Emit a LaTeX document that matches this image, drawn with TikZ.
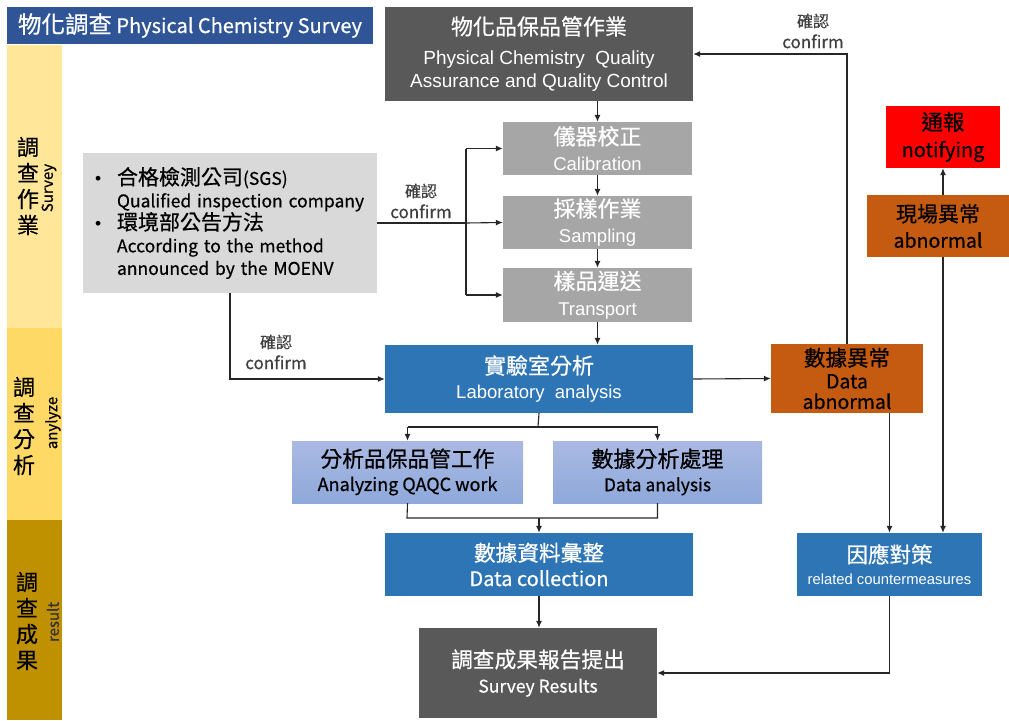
\documentclass[tikz,border=0pt]{standalone}
\usepackage{fontspec}
\setmainfont{Noto Sans CJK TC}[FakeBold=0.6]
\newfontfamily\arialfont{Liberation Sans}
\usetikzlibrary{arrows.meta}
\newcommand{\fs}[2]{\fontsize{#1}{#2}\selectfont}
\newcommand{\dotitem}{\makebox[24pt][l]{\hspace*{2pt}{\arialfont •}}}
\definecolor{titleblue}{HTML}{2F5597}
\definecolor{barone}{HTML}{FFE699}
\definecolor{bartwo}{HTML}{FFD966}
\definecolor{barthree}{HTML}{BF9000}
\definecolor{infogray}{HTML}{D9D9D9}
\definecolor{darkgray}{HTML}{595959}
\definecolor{midgray}{HTML}{A6A6A6}
\definecolor{labblue}{HTML}{2E75B6}
\definecolor{rust}{HTML}{C55A11}
\definecolor{alertred}{HTML}{FF0000}
\definecolor{lavtop}{HTML}{AAB9E2}
\definecolor{lavbot}{HTML}{8EA9DB}

\begin{document}
\begin{tikzpicture}[x=1pt,y=-1pt,
  every node/.style={inner sep=0pt},
  box/.style={align=center},
  line/.style={line width=1.1pt,color=black!85},
  arr/.style={line,-{Latex[length=7pt,width=6pt]}},
  note/.style={align=center,text=black!75,font=\fs{17}{21}},
  side/.style={align=center,font=\fs{22}{26}},
  sidetag/.style={rotate=90,font=\fs{15}{18}}]
\useasboundingbox (0,0) rectangle (1009,720);

% side bar
\fill[barone] (7,45) rectangle (62,328);
\fill[bartwo] (7,328) rectangle (62,520);
\fill[barthree] (7,520) rectangle (62,720);
\node[side] (s1) at (28,186) {調\\查\\作\\業};
\node[sidetag] (t1) at (49,188) {Survey};
\node[side] (s2) at (24,426) {調\\查\\分\\析};
\node[sidetag] (t2) at (53,423) {anylyze};
\node[side] (s3) at (27,621) {調\\查\\成\\果};
\node[sidetag,text=black!80] (t3) at (53,622) {result};

% title
\node[fill=titleblue,text=white,minimum width=366,minimum height=37,font=\fs{20}{24}] (title) at (190,25.5) {{\fs{23.5}{24}物化調查} Physical Chemistry Survey};

% boxes
\node[fill=infogray,minimum width=294,minimum height=140,text width=274,align=left,font=\fs{17.5}{22.5}] (info) at (230,223)
  {\dotitem{\fs{21}{22}合格檢測公司}(SGS)\\\hspace*{24pt}Qualified inspection company\\\dotitem{\fs{21}{22}環境部公告方法}\\\hspace*{24pt}According to the method\\\hspace*{24pt}announced by the MOENV};
\node[box,fill=darkgray,text=white,minimum width=308,minimum height=94,font=\arialfont\fs{19}{23}] (qa) at (539,54)
  {{\rmfamily\fs{22}{23}物化品保品管作業}\\[7pt]Physical Chemistry~ Quality\\Assurance and Quality Control};
\node[box,fill=midgray,text=white,minimum width=189,minimum height=53,font=\arialfont\fs{18.5}{26}] (cal) at (597.5,148.5)
  {{\rmfamily\fs{22}{22}儀器校正}\\Calibration};
\node[box,fill=midgray,text=white,minimum width=189,minimum height=53,font=\arialfont\fs{18.5}{26}] (samp) at (597.5,222.5)
  {{\rmfamily\fs{22}{22}採樣作業}\\Sampling};
\node[box,fill=midgray,text=white,minimum width=189,minimum height=54,font=\arialfont\fs{18.5}{26}] (trans) at (597.5,295)
  {{\rmfamily\fs{22}{22}樣品運送}\\Transport};
\node[box,fill=labblue,text=white,minimum width=308,minimum height=68,font=\arialfont\fs{18.5}{25}] (lab) at (539,379)
  {{\rmfamily\fs{22}{22}實驗室分析}\\Laboratory~ analysis};
\node[box,fill=rust,minimum width=152,minimum height=69,font=\fs{19.5}{20.5}] (dab) at (847,378.5)
  {{\fs{21.5}{22}數據異常}\\[2pt]Data\\abnormal};
\node[box,fill=rust,minimum width=142,minimum height=62,font=\fs{19.5}{26}] (site) at (938,226)
  {{\fs{21}{22}現場異常}\\abnormal};
\node[box,fill=alertred,minimum width=114,minimum height=62,font=\fs{20}{27}] (notify) at (943,137)
  {{\fs{21.5}{22}通報}\\notifying};
\node[box,fill=labblue,text=white,minimum width=185,minimum height=63,font=\arialfont\fs{14.8}{22}] (cm) at (889.5,564.5)
  {{\rmfamily\fs{21.5}{22}因應對策}\\related countermeasures};
\node[box,top color=lavtop,bottom color=lavbot,minimum width=231,minimum height=62,font=\fs{18}{24}] (qaqc) at (407.5,472)
  {{\fs{21.75}{22}分析品保品管工作}\\Analyzing QAQC work};
\node[box,top color=lavtop,bottom color=lavbot,minimum width=209,minimum height=62,font=\fs{17.5}{24}] (dana) at (657.5,472)
  {{\fs{22}{22}數據分析處理}\\Data analysis};
\node[box,fill=labblue,text=white,minimum width=308,minimum height=63,font=\fs{20}{25}] (coll) at (539,564.5)
  {{\fs{21.7}{22}數據資料彙整}\\Data collection};
\node[box,fill=darkgray,text=white,minimum width=238,minimum height=90,font=\fs{17.5}{25}] (res) at (538,673)
  {{\fs{21.7}{22}調查成果報告提出}\\Survey Results};

% confirm notes
\node[note] (c1) at (421,201) {{\fs{16}{21}確認}\\confirm};
\node[note] (c2) at (276,352) {{\fs{16}{21}確認}\\confirm};
\node[note] (c3) at (813,31) {{\fs{16}{21}確認}\\confirm};

% connectors
\draw[line] (info.east) -- (466,223) coordinate (fork);
\draw[line] (fork |- cal) -- (fork |- trans);
\draw[arr] (fork |- cal) -- (cal.west);
\draw[arr] (fork) -- (samp.west);
\draw[arr] (fork |- trans) -- (trans.west);
\draw[arr] (info.south) |- (lab.west);
\draw[arr] (qa.south -| cal) -- (cal.north);
\draw[arr] (cal) -- (samp);
\draw[arr] (samp) -- (trans);
\draw[arr] (trans.south) -- (trans |- lab.north);
\draw[arr] (lab.east) -- (dab.west);
\draw[arr] (dab.north) |- (qa.east);
\draw[arr] (dab.south -| cm) -- (cm.north);
\draw[arr] (notify |- site.north) -- (notify.south);
\draw[arr] (notify |- site.south) -- (notify |- cm.north);
\draw[arr] (cm.south) |- (res.east);
\draw[line] (lab.south) -- (538,427) coordinate (split);
\draw[line] (qaqc |- split) -- (dana |- split);
\draw[arr] (qaqc |- split) -- (qaqc.north);
\draw[arr] (dana |- split) -- (dana.north);
\draw[line] (qaqc.south) -- (407,518) coordinate (merge) -- (dana |- merge) -- (dana.south);
\draw[arr] (merge -| coll) -- (coll.north);
\draw[arr] (coll.south) -- (coll |- res.north);
\end{tikzpicture}
\end{document}
